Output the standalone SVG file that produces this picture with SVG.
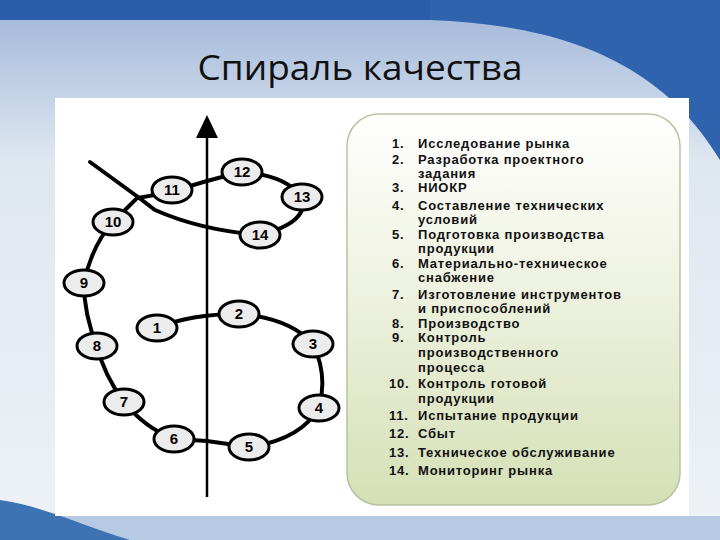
<svg xmlns="http://www.w3.org/2000/svg" width="720" height="540" viewBox="0 0 720 540">
<defs>
<linearGradient id="bg" x1="0" y1="0" x2="0" y2="1">
<stop offset="0" stop-color="#9fb6d8"/><stop offset="0.3" stop-color="#dfe7f1"/><stop offset="1" stop-color="#eef2f7"/>
</linearGradient>
<linearGradient id="box" x1="0" y1="0" x2="0" y2="1">
<stop offset="0" stop-color="#ffffff"/><stop offset="0.45" stop-color="#eef2e0"/><stop offset="1" stop-color="#d5e0b6"/>
</linearGradient>
<style>
.n ellipse{fill:#ececec;stroke:#000;stroke-width:3}
.n text{font-family:"Liberation Sans",Arial,sans-serif;font-weight:bold;font-size:15px;text-anchor:middle}
.sp{fill:none;stroke:#000;stroke-width:4;stroke-linecap:round}
.li{font-family:"Liberation Sans",Arial,sans-serif;font-weight:bold;font-size:13px;letter-spacing:0.8px;fill:#111}
</style>
</defs>
<rect width="720" height="540" fill="url(#bg)"/>
<rect width="720" height="20" fill="#2a5ca8"/>
<path d="M430 20 C560 25 660 60 720 160 L720 0 L430 0Z" fill="#2f63ad"/>
<rect x="0" y="516" width="720" height="24" fill="#a9bfdf" opacity="0.8"/>
<path d="M0 500 C40 505 80 525 130 540 L0 540Z" fill="#3d72b3"/>
<text x="360" y="80" text-anchor="middle" font-family="'Open Sans',sans-serif" font-size="34" fill="#111" textLength="325" lengthAdjust="spacingAndGlyphs">Спираль качества</text>
<rect x="55" y="98" width="634" height="418" fill="#fff"/>
<rect x="347" y="114" width="333" height="391" rx="32" fill="url(#box)" stroke="#b9c2a3" stroke-width="1.5"/>
<g id="connectors">
<line x1="207" y1="497" x2="207" y2="135" stroke="#000" stroke-width="2.5"/>
<polygon points="207,115 196,138 218,138" fill="#000"/>
<path class="sp" d="M157 328 Q190 314 239 314 Q290 318 313 344 Q328 375 319 408 Q300 440 249 447 L207 441 L174 439 Q145 428 124 402 Q104 375 97 346 Q84 315 84 283 Q92 245 113 222 L137 198 L172 192 Q200 182 242 172 Q285 175 302 197 Q310 222 260 235 Q200 230 155 210 L138 197"/>
<path class="sp" d="M138 197 L90 162" stroke-width="3"/>
</g>
<g id="n1" class="n"><ellipse cx="157" cy="328" rx="20" ry="13"/><text x="157" y="333">1</text></g>
<g id="n2" class="n"><ellipse cx="239" cy="314" rx="20" ry="13"/><text x="239" y="319">2</text></g>
<g id="n3" class="n"><ellipse cx="313" cy="344" rx="20" ry="13"/><text x="313" y="349">3</text></g>
<g id="n4" class="n"><ellipse cx="319" cy="408" rx="20" ry="13"/><text x="319" y="413">4</text></g>
<g id="n5" class="n"><ellipse cx="249" cy="447" rx="20" ry="13"/><text x="249" y="452">5</text></g>
<g id="n6" class="n"><ellipse cx="174" cy="439" rx="20" ry="13"/><text x="174" y="444">6</text></g>
<g id="n7" class="n"><ellipse cx="124" cy="402" rx="20" ry="13"/><text x="124" y="407">7</text></g>
<g id="n8" class="n"><ellipse cx="97" cy="346" rx="20" ry="13"/><text x="97" y="351">8</text></g>
<g id="n9" class="n"><ellipse cx="84" cy="283" rx="20" ry="13"/><text x="84" y="288">9</text></g>
<g id="n10" class="n"><ellipse cx="113" cy="222" rx="20" ry="13"/><text x="113" y="227">10</text></g>
<g id="n11" class="n"><ellipse cx="172" cy="190" rx="20" ry="13"/><text x="172" y="195">11</text></g>
<g id="n12" class="n"><ellipse cx="242" cy="172" rx="20" ry="13"/><text x="242" y="177">12</text></g>
<g id="n13" class="n"><ellipse cx="302" cy="197" rx="20" ry="13"/><text x="302" y="202">13</text></g>
<g id="n14" class="n"><ellipse cx="260" cy="235" rx="20" ry="13"/><text x="260" y="240">14</text></g>
<g id="list" class="li">
<text x="392" y="148">1.</text><text x="418" y="148">Исследование рынка</text>
<text x="392" y="164">2.</text><text x="418" y="164">Разработка проектного</text>
<text x="418" y="178">задания</text>
<text x="392" y="192">3.</text><text x="418" y="192">НИОКР</text>
<text x="392" y="210">4.</text><text x="418" y="210">Составление технических</text>
<text x="418" y="224">условий</text>
<text x="392" y="239">5.</text><text x="418" y="239">Подготовка производства</text>
<text x="418" y="253">продукции</text>
<text x="392" y="268">6.</text><text x="418" y="268">Материально-техническое</text>
<text x="418" y="282">снабжение</text>
<text x="392" y="299">7.</text><text x="418" y="299">Изготовление инструментов</text>
<text x="418" y="313">и приспособлений</text>
<text x="392" y="328">8.</text><text x="418" y="328">Производство</text>
<text x="392" y="342">9.</text><text x="418" y="342">Контроль</text>
<text x="418" y="357">производственного</text>
<text x="418" y="372">процесса</text>
<text x="389" y="388">10.</text><text x="418" y="388">Контроль готовой</text>
<text x="418" y="403">продукции</text>
<text x="389" y="420">11.</text><text x="418" y="420">Испытание продукции</text>
<text x="389" y="438">12.</text><text x="418" y="438">Сбыт</text>
<text x="389" y="457">13.</text><text x="418" y="457">Техническое обслуживание</text>
<text x="389" y="475">14.</text><text x="418" y="475">Мониторинг рынка</text>
</g>
</svg>
